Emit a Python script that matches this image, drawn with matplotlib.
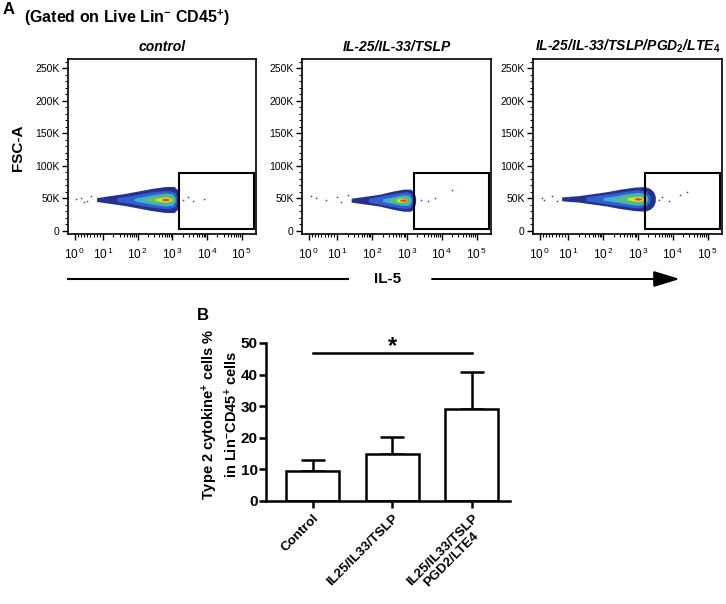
import numpy as np
import matplotlib
matplotlib.use('Agg')
import matplotlib.pyplot as plt
from matplotlib.patches import Rectangle
from matplotlib.ticker import MultipleLocator, FixedLocator, FuncFormatter

plt.rcParams['font.family'] = ['Liberation Sans', 'DejaVu Sans']
plt.rcParams['mathtext.fontset'] = 'custom'
plt.rcParams['mathtext.rm'] = 'Liberation Sans'
plt.rcParams['mathtext.it'] = 'Liberation Sans:italic'
plt.rcParams['mathtext.bf'] = 'Liberation Sans:bold'

# ---- panel A data ----
titles = ['control', 'IL-25/IL-33/TSLP',
          r'IL-25/IL-33/TSLP/PGD$_\mathbf{2}$/LTE$_\mathbf{4}$']
cloud_center = [48, 47, 49]   # FSC-A (K) of the population
# each layer: (log10 IL-5 positions, half height in K), outer -> inner
cloud_ctrl = [
    ([0.9, 1.2, 1.6, 2.0, 2.4, 2.8, 3.05, 3.15, 3.2], [3, 6, 9, 13, 17, 20, 20, 15, 5]),
    ([1.4, 1.8, 2.2, 2.6, 2.9, 3.08, 3.12], [3, 6, 10, 13, 14, 11, 4]),
    ([1.9, 2.2, 2.5, 2.8, 3.0, 3.08], [2, 5, 8, 10, 9, 3]),
    ([2.2, 2.5, 2.75, 2.95, 3.05], [2, 5, 7, 6, 2]),
    ([2.5, 2.7, 2.85, 2.98], [1.5, 3.5, 4, 1.5]),
    ([2.7, 2.8, 2.9], [1, 2, 1]),
]
cloud_il = [
    ([1.4, 1.8, 2.2, 2.6, 2.9, 3.1, 3.2, 3.25], [3, 6, 9, 14, 17, 17, 13, 4]),
    ([1.9, 2.3, 2.7, 3.0, 3.12, 3.17], [3, 7, 11, 13, 10, 3]),
    ([2.3, 2.6, 2.85, 3.05, 3.12], [2, 5, 8, 8, 3]),
    ([2.5, 2.75, 2.95, 3.08], [2, 5, 6, 2]),
    ([2.7, 2.85, 3.0], [2, 3.5, 1.5]),
    ([2.8, 2.9, 2.98], [1, 2, 1]),
]
cloud_il_pgd = [
    ([0.9, 1.3, 1.7, 2.1, 2.5, 2.9, 3.2, 3.35, 3.45, 3.5], [3, 5, 8, 11, 15, 18, 19, 16, 11, 4]),
    ([1.5, 1.9, 2.3, 2.7, 3.0, 3.25, 3.35], [3, 6, 9, 12, 14, 11, 4]),
    ([2.0, 2.4, 2.7, 3.0, 3.2, 3.28], [2, 5, 8, 10, 8, 3]),
    ([2.4, 2.7, 2.95, 3.15, 3.25], [2, 5, 7, 5, 2]),
    ([2.7, 2.9, 3.05, 3.15], [1.5, 3.5, 4, 1.5]),
    ([2.9, 3.0, 3.1], [1, 2, 1]),
]
clouds = [cloud_ctrl, cloud_il, cloud_il_pgd]
layer_colors = ['#26308f', '#3060cc', '#3fb0d0', '#5cc060', '#d8de34', '#e8452c']

# sparse events outside the main cloud (log10 x, K)
stray_x = [[0.2, 0.5, 0.7, 0.8, 1.0, 0.6, 3.3, 3.45, 3.6, 3.9],
           [0.2, 0.5, 0.8, 1.0, 1.1, 1.3, 3.4, 3.6, 3.8, 4.3],
           [0.2, 0.4, 0.7, 0.8, 1.0, 3.6, 3.7, 3.9, 4.2, 4.4]]
stray_y = [[49, 51, 46, 53, 50, 44, 47, 52, 45, 49],
           [54, 50, 47, 52, 44, 55, 48, 46, 51, 62],
           [50, 48, 53, 45, 51, 47, 52, 45, 55, 60]]
gate_x = [1600, 2.3e5]
gate_y = [2, 89]

# ---- panel B data ----
groups = ['Control', 'IL25/IL33/TSLP', 'IL25/IL33/TSLP\nPGD2/LTE4']
means = [9.5, 14.9, 29.0]
sem = [3.5, 5.4, 11.8]
sig_y = 46.8

W, H = 726, 604
fig = plt.figure(figsize=(W / 100, H / 100), dpi=100)


def px_axes(l, t, r, b):
    return fig.add_axes([l / W, 1 - b / H, (r - l) / W, (b - t) / H])


# overlay in pixel coordinates for labels and the IL-5 arrow
ov = fig.add_axes([0, 0, 1, 1])
ov.set_xlim(0, W)
ov.set_ylim(H, 0)
ov.set_axis_off()
ov.text(9, 10, 'A', fontsize=12, fontweight='bold', ha='center', va='center')
ov.text(24, 18, r'(Gated on Live Lin$^{\mathbf{-}}$ CD45$^{\mathbf{+}}$)',
        fontsize=11.5, fontweight='bold', ha='left', va='center')
ov.text(18, 148, 'FSC-A', fontsize=11, fontweight='bold', rotation=90,
        ha='center', va='center')
ov.plot([68, 348], [279, 279], color='k', lw=1.5)
ov.arrow(432, 279, 245, 0, head_width=14, head_length=23,
         length_includes_head=True, fc='k', ec='k', lw=1.2)
ov.text(388, 279, 'IL-5', fontsize=11, fontweight='bold', ha='center', va='center')
ov.text(203, 315, 'B', fontsize=12, fontweight='bold', ha='center', va='center')
ov.text(220, 414, 'Type 2 cytokine$^{\\mathbf{+}}$ cells %\nin Lin$^{\\mathbf{-}}$CD45$^{\\mathbf{+}}$ cells',
        fontsize=10.5, fontweight='bold', rotation=90, ha='center', va='center',
        multialignment='center')

boxes = [(68, 59, 256, 234), (302, 59, 491, 234), (533, 59, 722, 234)]
minor_x = [m * 10 ** d for d in range(0, 5) for m in range(2, 10)]
for i, box in enumerate(boxes):
    ax = px_axes(*box)
    ax.set_xscale('symlog', linthresh=10, linscale=0.82)
    c = cloud_center[i]
    for (xs, hs), col in zip(clouds[i], layer_colors):
        xs = 10 ** np.array(xs)
        hs = np.array(hs)
        ax.fill_between(xs, c - hs, c + hs, color=col, lw=0)
    ax.scatter(10 ** np.array(stray_x[i]), stray_y[i], s=1.5, color='#3050c0', lw=0)
    ax.add_patch(Rectangle((gate_x[0], gate_y[0]), gate_x[1] - gate_x[0],
                           gate_y[1] - gate_y[0], fill=False, lw=1.5, ec='k'))
    ax.set_xlim(-1.1, 2.6e5)
    ax.set_ylim(-5, 264)
    ax.xaxis.set_major_locator(FixedLocator([1, 10, 100, 1e3, 1e4, 1e5]))
    ax.xaxis.set_minor_locator(FixedLocator(minor_x))
    ax.xaxis.set_major_formatter(FuncFormatter(
        lambda v, p: r'$\mathregular{10^{\,%d}}$' % round(np.log10(v))))
    ax.yaxis.set_major_locator(MultipleLocator(50))
    ax.yaxis.set_minor_locator(MultipleLocator(10))
    ax.yaxis.set_major_formatter(FuncFormatter(
        lambda v, p: '0' if v == 0 else '%dK' % v))
    ax.tick_params(which='major', length=4, width=1, labelsize=7.5, pad=2)
    ax.tick_params(axis='x', which='major', labelsize=8.5, pad=5)
    ax.tick_params(which='minor', length=2, width=0.8)
    for s in ax.spines.values():
        s.set_linewidth(1.2)
    ax.set_title(titles[i], fontsize=10, fontweight='bold', style='italic', pad=6)

# ---- panel B ----
axb = px_axes(266, 343, 510, 501)
pos = np.arange(len(groups))
axb.bar(pos, means, width=0.667, color='white', edgecolor='k', lw=1.8, zorder=2)
axb.errorbar(pos, means, yerr=[[0] * len(sem), sem], fmt='none', ecolor='k',
             elinewidth=1.8, capsize=8.5, capthick=1.8, zorder=1)
axb.plot([pos[0], pos[-1]], [sig_y, sig_y], color='k', lw=1.8, clip_on=False)
axb.text(pos[1], 49.0, '*', fontsize=17, fontweight='bold', ha='center',
         va='center', clip_on=False)
axb.set_xlim(-0.59, 2.48)
axb.set_ylim(0, 50)
axb.set_yticks(range(0, 51, 10))
axb.set_xticks(pos)
axb.set_xticklabels(groups, rotation=45, ha='right', va='top',
                    rotation_mode='anchor', multialignment='center',
                    fontsize=9.6, fontweight='bold', linespacing=1.1)
for lab in axb.get_yticklabels():
    lab.set_fontweight('bold')
axb.tick_params(axis='y', length=5, width=1.8, labelsize=11, pad=1)
axb.tick_params(axis='x', length=5, width=1.8, pad=3)
axb.spines['top'].set_visible(False)
axb.spines['right'].set_visible(False)
axb.spines['left'].set_linewidth(1.8)
axb.spines['bottom'].set_linewidth(1.8)

fig.savefig('out.png', dpi=100)
